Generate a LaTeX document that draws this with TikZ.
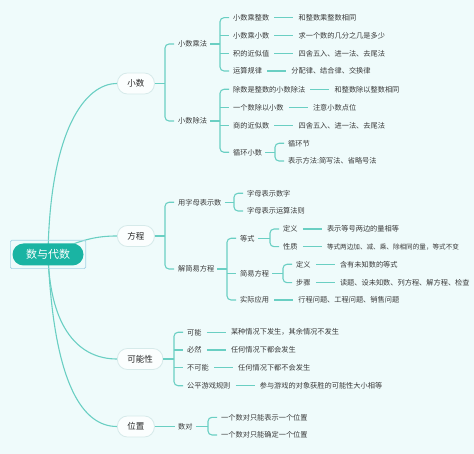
\documentclass[tikz,border=0pt]{standalone}
\usepackage{fontspec}
\newfontfamily\cjk{Noto Sans CJK SC}
\usetikzlibrary{positioning,backgrounds}
\definecolor{bgcol}{HTML}{EFFBFB}
\definecolor{linecol}{HTML}{6ACFC3}
\definecolor{rootcol}{HTML}{1AB4A3}
\definecolor{framecol}{HTML}{A6D4E6}
\definecolor{pillcol}{HTML}{D6EAEA}
\definecolor{textcol}{HTML}{3A3A3A}
\tikzset{
  link/.style={linecol, line width=1.1pt},
  leaf/.style={inner sep=0pt, anchor=west, text=textcol, font=\cjk\fontsize{7.2}{8}\selectfont},
  topic/.style={draw=pillcol, fill=white!75!bgcol, line width=0.8pt, rounded corners=10pt,
                minimum height=21pt, inner xsep=10pt, anchor=west, text=black!85,
                font=\cjk\fontsize{8.5}{10}\selectfont},
  mainnode/.style={fill=rootcol, text=white, rounded corners=11pt, minimum width=71pt,
                   minimum height=22pt, font=\cjk\fontsize{11}{13}\selectfont},
}
% bracket from parent #2 to its children #3 ... #4
\newcommand{\forkto}[4][3pt]{%
  \draw[link, rounded corners=4pt] ([xshift=-4pt]#3.west) -| ([xshift=-13pt]#4.west) coordinate (#2-f) -- ([xshift=-4pt]#4.west);
  \draw[link] ([xshift=#1]#2.east) -- (#2.east -| #2-f);
}
\begin{document}
\begin{tikzpicture}[x=1pt,y=-1pt]
\useasboundingbox (0,0) rectangle (474,454);

% root and main topics
\node[mainnode] (main) at (48,254.5) {数与代数};
\draw[framecol, line width=0.6pt, rounded corners=1.5pt] ([shift={(-2pt,3pt)}]main.north west) rectangle ([shift={(2pt,-3pt)}]main.south east);
\node[topic] (xs) at (117,83.5) {小数};
\node[topic] (fc) at (117,236) {方程};
\node[topic] (knx) at (117,359) {可能性};
\node[topic] (wz) at (117,426.5) {位置};

% curves
\begin{pgfonlayer}{background}
\fill[bgcol] (0,0) rectangle (474,454);
\draw[link] (main.center) .. controls (50,130) and (85,83.5) .. (xs.west);
\draw[link] (main.center) .. controls (80,240) and (95,236) .. (fc.west);
\draw[link] (main.center) .. controls (50,330) and (80,359) .. (knx.west);
\draw[link] (main.center) .. controls (54,390) and (85,426.5) .. (wz.west);
\end{pgfonlayer}

% 小数
\node[leaf] (xscf) at (178,44) {小数乘法};
\node[leaf] (xscc) at (178,121) {小数除法};
\forkto[0pt]{xs}{xscf}{xscc}

\foreach \k/\v/\y [count=\i] in {小数乘整数/和整数乘整数相同/17.7, 小数乘小数/求一个数的几分之几是多少/35.7,
    积的近似值/四舍五入、进一法、去尾法/53.3, 运算规律/分配律、结合律、交换律/71}{
  \node[leaf] (cf\i) at (233,\y) {\k};
  \node[leaf, right=29pt of cf\i] (cfv\i) {\v};
  \draw[link] ([xshift=5pt]cf\i.east) -- ([xshift=-5pt]cfv\i.west);
}
\forkto{xscf}{cf1}{cf4}
\foreach \i in {2,3} \draw[link] (cf\i.west -| xscf-f) -- ([xshift=-4pt]cf\i.west);

\foreach \k/\v/\y [count=\i] in {除数是整数的小数除法/和整数除以整数相同/89.3, 一个数除以小数/注意小数点位/107.3,
    商的近似数/四舍五入、进一法、去尾法/125.3}{
  \node[leaf] (cc\i) at (233,\y) {\k};
  \node[leaf, right=29pt of cc\i] (ccv\i) {\v};
  \draw[link] ([xshift=5pt]cc\i.east) -- ([xshift=-5pt]ccv\i.west);
}
\node[leaf] (cc4) at (233,152.3) {循环小数};
\forkto{xscc}{cc1}{cc4}
\foreach \i in {2,3} \draw[link] (cc\i.west -| xscc-f) -- ([xshift=-4pt]cc\i.west);
\node[leaf] (xh1) at (288,143.3) {循环节};
\node[leaf] (xh2) at (288,161) {表示方法:简写法、省略号法};
\forkto{cc4}{xh1}{xh2}

% 方程
\node[leaf] (zm) at (178,202.3) {用字母表示数};
\node[leaf] (jf) at (178,269) {解简易方程};
\forkto[0pt]{fc}{zm}{jf}
\node[leaf] (zm1) at (247,193.3) {字母表示数字};
\node[leaf] (zm2) at (247,211) {字母表示运算法则};
\forkto{zm}{zm1}{zm2}

\node[leaf] (dsh) at (240,238.3) {等式};
\node[leaf] (jy) at (240,273.3) {简易方程};
\node[leaf] (sj) at (240,300) {实际应用};
\forkto{jf}{dsh}{sj}
\draw[link] (jy.west -| jf-f) -- ([xshift=-4pt]jy.west);
\node[leaf, right=29pt of sj] (sjv) {行程问题、工程问题、销售问题};
\draw[link] ([xshift=5pt]sj.east) -- ([xshift=-5pt]sjv.west);

\node[leaf] (ds1) at (283,229) {定义};
\node[leaf, right=29pt of ds1] (dsv1) {表示等号两边的量相等};
\node[leaf] (ds2) at (283,246.7) {性质};
\node[leaf, right=29pt of ds2, font=\cjk\fontsize{6.6}{8}\selectfont] (dsv2) {等式两边加、减、乘、除相同的量，等式不变};
\foreach \i in {1,2} \draw[link] ([xshift=5pt]ds\i.east) -- ([xshift=-5pt]dsv\i.west);
\forkto{dsh}{ds1}{ds2}

\foreach \k/\v/\y [count=\i] in {定义/含有未知数的等式/264.3, 步骤/读题、设未知数、列方程、解方程、检查/282.7}{
  \node[leaf] (jy\i) at (296,\y) {\k};
  \node[leaf, right=29pt of jy\i] (jyv\i) {\v};
  \draw[link] ([xshift=5pt]jy\i.east) -- ([xshift=-5pt]jyv\i.west);
}
\forkto{jy}{jy1}{jy2}

% 可能性
\foreach \k/\v/\y [count=\i] in {可能/某种情况下发生，其余情况不发生/332.3, 必然/任何情况下都会发生/350,
    不可能/任何情况下都不会发生/367.7, 公平游戏规则/参与游戏的对象获胜的可能性大小相等/385.7}{
  \node[leaf] (kn\i) at (187,\y) {\k};
  \node[leaf, right=29pt of kn\i] (knv\i) {\v};
  \draw[link] ([xshift=5pt]kn\i.east) -- ([xshift=-5pt]knv\i.west);
}
\forkto[0pt]{knx}{kn1}{kn4}
\foreach \i in {2,3} \draw[link] (kn\i.west -| knx-f) -- ([xshift=-4pt]kn\i.west);

% 位置
\node[leaf] (sd) at (178,426.5) {数对};
\draw[link] (wz.east) -- ([xshift=-3pt]sd.west);
\node[leaf] (sd1) at (221,417.3) {一个数对只能表示一个位置};
\node[leaf] (sd2) at (221,435) {一个数对只能确定一个位置};
\forkto{sd}{sd1}{sd2}
\end{tikzpicture}
\end{document}
